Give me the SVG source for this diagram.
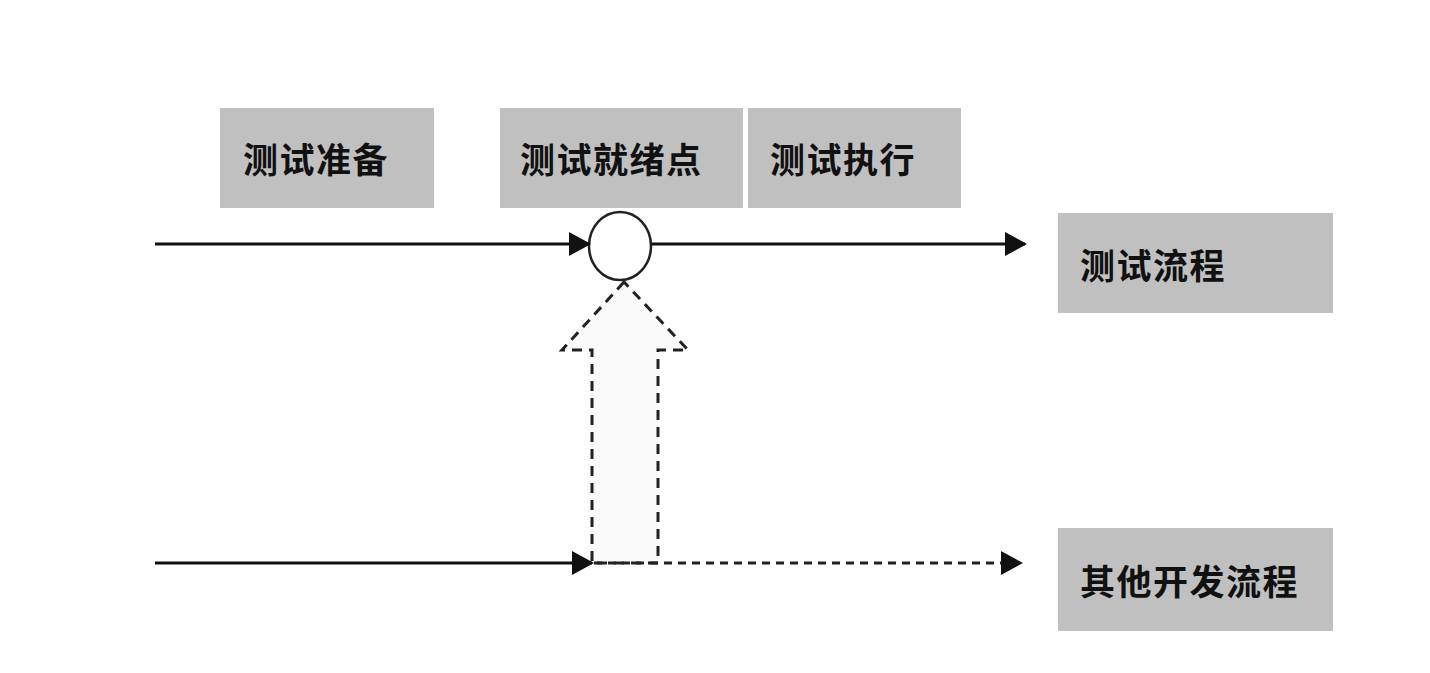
<svg xmlns="http://www.w3.org/2000/svg" width="1430" height="673" viewBox="0 0 1430 673">
<style>
.box{fill:#c0c0c0;}
.lbl{font-family:"Noto Sans CJK SC","Noto Sans",sans-serif;font-size:35px;font-weight:bold;fill:#111;letter-spacing:1.5px;}
.solid{stroke:#111;stroke-width:3;fill:none;}
.dash{stroke:#222;stroke-width:3;fill:none;stroke-dasharray:8 6;}
</style>
<defs>
<marker id="ahb" markerWidth="22" markerHeight="24" refX="20" refY="12" orient="auto" markerUnits="userSpaceOnUse" viewBox="0 0 22 24">
<path d="M0,0 L22,12 L0,24 Z" fill="#111"/>
</marker>
</defs>
<rect width="1430" height="673" fill="#fff"/>
<g id="n-prep"><rect class="box" x="220" y="108" width="214" height="100"/><text class="lbl" x="243" y="173">测试准备</text></g>
<g id="n-ready"><rect class="box" x="500" y="108" width="243" height="100"/><text class="lbl" x="520" y="173">测试就绪点</text></g>
<g id="n-exec"><rect class="box" x="748" y="108" width="213" height="100"/><text class="lbl" x="770" y="173">测试执行</text></g>
<g id="n-test"><rect class="box" x="1058" y="213" width="275" height="100"/><text class="lbl" x="1080" y="279">测试流程</text></g>
<g id="n-other"><rect class="box" x="1058" y="528" width="275" height="103"/><text class="lbl" x="1080" y="595">其他开发流程</text></g>
<g id="connectors">
<path d="M624,282 L562,350 L592,350 L592,563 L658,563 L658,350 L688,350 Z" fill="#fafafa" stroke="#222" stroke-width="3" stroke-dasharray="10 7"/>
<ellipse id="n-point" cx="620" cy="246" rx="31" ry="34" fill="#fff" stroke="#222" stroke-width="2.5"/>
<line class="solid" x1="155" y1="244" x2="589" y2="244" marker-end="url(#ahb)"/>
<line class="solid" x1="652" y1="244" x2="1025" y2="244" marker-end="url(#ahb)"/>
<line class="solid" x1="155" y1="563" x2="592" y2="563" marker-end="url(#ahb)"/>
<line class="dash" x1="594" y1="563" x2="1003" y2="563"/>
<path d="M1001,551 L1023,563 L1001,575 Z" fill="#111"/>
</g>
</svg>
